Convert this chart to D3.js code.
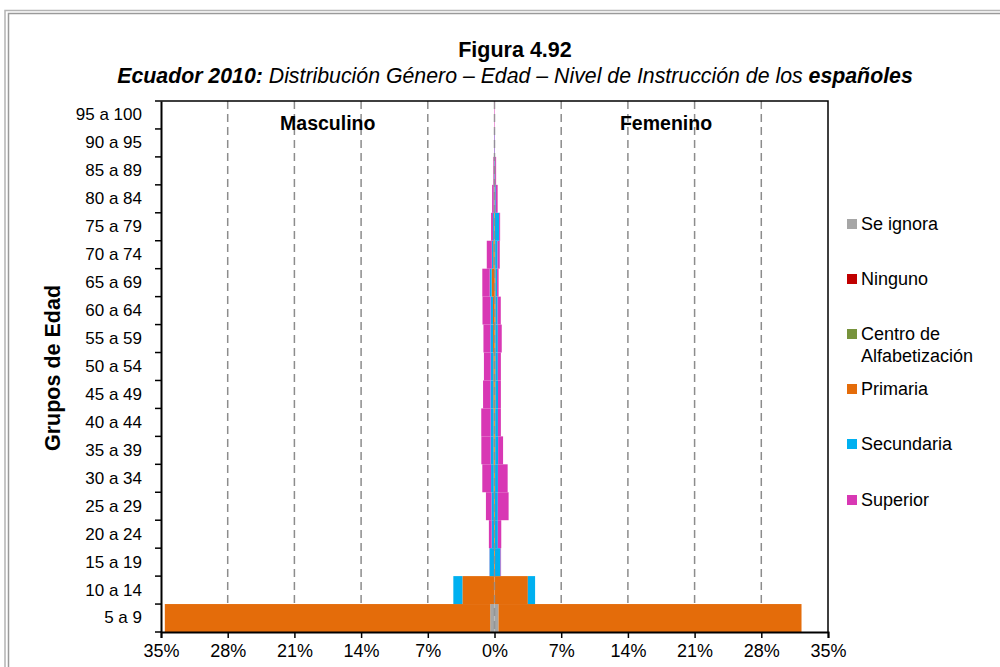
<!DOCTYPE html>
<html>
<head>
<meta charset="utf-8">
<script src="https://cdn.jsdelivr.net/npm/d3@7/dist/d3.min.js"></script>
<style>
  html, body { margin: 0; padding: 0; background: #fff; }
  svg { display: block; font-family: "Liberation Sans", Arial, sans-serif; }
</style>
</head>
<body>
<svg id="chart" width="1000" height="667"></svg>
<script>
// Age groups, bottom to top
const ages = ["5 a 9","10 a 14","15 a 19","20 a 24","25 a 29","30 a 34","35 a 39","40 a 44",
  "45 a 49","50 a 54","55 a 59","60 a 64","65 a 69","70 a 74","75 a 79","80 a 84","85 a 89",
  "90 a 95","95 a 100"];

// Education levels, stacked from the centre outward
const levels = ["Se ignora","Ninguno","Centro de Alfabetización","Primaria","Secundaria","Superior"];
const levelColors = ["#A6A6A6","#C00000","#77933C","#E46C0A","#00B0F0","#D838B4"];

// Percent of population, men (same order as ages)
const maleSeIgnora   = [0.45,0.02,0,0,0,0,0,0,0,0,0,0,0,0,0,0,0,0,0];
const maleNinguno    = [0,0,0,0,0,0,0,0,0,0,0.01,0.01,0.02,0.01,0.01,0,0,0,0];
const maleCentro     = [0,0,0,0,0,0,0,0,0,0,0,0,0,0,0,0,0,0,0];
const malePrimaria   = [34.15,3.35,0.05,0.05,0.06,0.08,0.1,0.1,0.12,0.12,0.14,0.15,0.28,0.12,0.05,0.03,0.02,0,0];
const maleSecundaria = [0,0.95,0.47,0.25,0.26,0.28,0.3,0.3,0.3,0.28,0.28,0.25,0.2,0.15,0.1,0.05,0.03,0.02,0];
const maleSuperior   = [0,0,0.02,0.29,0.58,0.92,0.98,0.99,0.78,0.71,0.73,0.85,0.78,0.53,0.2,0.17,0.07,0.03,0.03];

// Percent of population, women
const femaleSeIgnora   = [0.42,0,0,0,0,0,0,0,0,0,0,0,0,0,0,0,0,0,0];
const femaleNinguno    = [0,0,0,0,0,0,0,0,0,0,0,0.01,0.02,0.01,0,0,0,0,0];
const femaleCentro     = [0,0,0,0,0,0,0,0,0,0,0,0,0,0,0,0,0,0,0];
const femalePrimaria   = [31.8,3.5,0.05,0.05,0.05,0.06,0.08,0.08,0.1,0.1,0.1,0.1,0.08,0.06,0.04,0.03,0.02,0,0];
const femaleSecundaria = [0,0.76,0.58,0.3,0.3,0.3,0.3,0.28,0.27,0.25,0.25,0.22,0.17,0.25,0.45,0.1,0.05,0.02,0];
const femaleSuperior   = [0,0,0.06,0.36,1.13,1.02,0.52,0.31,0.3,0.32,0.41,0.33,0.16,0.23,0.1,0.2,0.1,0.03,0.03];

const xTicks = [-35,-28,-21,-14,-7,0,7,14,21,28,35];

const maleSeries = [maleSeIgnora, maleNinguno, maleCentro, malePrimaria, maleSecundaria, maleSuperior];
const femaleSeries = [femaleSeIgnora, femaleNinguno, femaleCentro, femalePrimaria, femaleSecundaria, femaleSuperior];

const svg = d3.select("#chart");
const plotLeft = 161, plotRight = 828, plotTop = 101, plotBottom = 632;

const x = d3.scaleLinear().domain([-35, 35]).range([plotLeft, plotRight]);
const y = d3.scaleBand().domain(ages.slice().reverse()).range([plotTop, plotBottom]).padding(0);

// outer frame
svg.append("path").attr("d", "M5,667 V10.5 H1000").attr("fill", "none")
  .attr("stroke", "#b4b4b4").attr("stroke-width", 1.5);
svg.append("path").attr("d", "M8.5,667 V13.5 H1000").attr("fill", "none")
  .attr("stroke", "#9a9a9a").attr("stroke-width", 1.5);

// titles
svg.append("text").attr("x", 515).attr("y", 57).attr("text-anchor", "middle")
  .attr("font-size", 21.5).attr("font-weight", "bold").text("Figura 4.92");
const sub = svg.append("text").attr("x", 515).attr("y", 83).attr("text-anchor", "middle")
  .attr("font-size", 21.3).attr("font-style", "italic");
sub.append("tspan").attr("font-weight", "bold").text("Ecuador 2010:");
sub.append("tspan").text(" Distribución Género – Edad – Nivel de Instrucción de los ");
sub.append("tspan").attr("font-weight", "bold").text("españoles");

// vertical dashed grid
const gridVals = xTicks.filter(v => v !== -35 && v !== 35 && v !== 0);
svg.append("g").selectAll("line").data(gridVals).join("line")
  .attr("x1", d => x(d)).attr("x2", d => x(d))
  .attr("y1", plotTop).attr("y2", plotBottom)
  .attr("stroke", "#8c8c8c").attr("stroke-width", 1.5).attr("stroke-dasharray", "8,5");

// stacked bars
function stackRows(series, sign) {
  const rects = [];
  ages.forEach((age, i) => {
    let acc = 0;
    series.forEach((vals, k) => {
      const v = vals[i];
      if (v > 0) {
        rects.push({ age, k, a: sign * acc, b: sign * (acc + v) });
        acc += v;
      }
    });
  });
  return rects;
}
const bars = stackRows(maleSeries, -1).concat(stackRows(femaleSeries, 1));
svg.append("g").selectAll("rect").data(bars).join("rect")
  .attr("x", d => x(Math.min(d.a, d.b)))
  .attr("width", d => Math.abs(x(d.b) - x(d.a)))
  .attr("y", d => y(d.age))
  .attr("height", y.bandwidth())
  .attr("fill", d => levelColors[d.k]);

// zero line over the bars
svg.append("line").attr("x1", x(0)).attr("x2", x(0)).attr("y1", plotTop).attr("y2", plotBottom)
  .attr("stroke", "#8c8c8c").attr("stroke-width", 1.5).attr("stroke-dasharray", "8,5")
  .attr("opacity", 0.8);

// plot frame (top and right)
svg.append("path").attr("d", `M${plotLeft},${plotTop} H${plotRight} V${plotBottom}`)
  .attr("fill", "none").attr("stroke", "#000").attr("stroke-width", 1.5);

// x axis
const xAxis = d3.axisBottom(x).tickValues(xTicks).tickSize(6)
  .tickFormat(d => Math.abs(d) + "%");
const gx = svg.append("g").attr("transform", `translate(0,${plotBottom})`).call(xAxis);
gx.select(".domain").attr("stroke-width", 2);
gx.selectAll(".tick line").attr("stroke-width", 1.5);
gx.selectAll("text").attr("font-size", 18).attr("fill", "#000")
  .attr("font-family", "Liberation Sans, Arial, sans-serif").attr("dy", "0.9em");

// y axis: labels per band, ticks at band boundaries
const gy = svg.append("g").attr("transform", `translate(${plotLeft},0)`)
  .call(d3.axisLeft(y).tickSize(0).tickPadding(19));
gy.select(".domain").attr("stroke-width", 2);
gy.selectAll("text").attr("font-size", 17).attr("fill", "#000")
  .attr("font-family", "Liberation Sans, Arial, sans-serif");
const bounds = d3.range(ages.length + 1).map(i => plotTop + i * y.step());
svg.append("g").selectAll("line").data(bounds).join("line")
  .attr("x1", plotLeft - 6).attr("x2", plotLeft).attr("y1", d => d).attr("y2", d => d)
  .attr("stroke", "#000").attr("stroke-width", 1.5);

// y axis title
svg.append("text").attr("transform", `translate(60,368) rotate(-90)`)
  .attr("text-anchor", "middle").attr("font-size", 21.5).attr("font-weight", "bold")
  .text("Grupos de Edad");

// side labels
svg.append("text").attr("x", x(-17.5)).attr("y", 130).attr("text-anchor", "middle")
  .attr("font-size", 19.5).attr("font-weight", "bold").text("Masculino");
svg.append("text").attr("x", x(18)).attr("y", 130).attr("text-anchor", "middle")
  .attr("font-size", 19.5).attr("font-weight", "bold").text("Femenino");

// legend
const legendY = [224, 279, 334, 389, 444, 500];
const lg = svg.append("g");
levels.forEach((name, k) => {
  const g = lg.append("g").attr("transform", `translate(847,${legendY[k]})`);
  g.append("rect").attr("x", 0).attr("y", -5).attr("width", 10).attr("height", 10)
    .attr("fill", levelColors[k]);
  const t = g.append("text").attr("x", 14).attr("y", 6).attr("font-size", 18);
  if (name === "Centro de Alfabetización") {
    t.append("tspan").attr("x", 14).text("Centro de");
    t.append("tspan").attr("x", 14).attr("dy", 22).text("Alfabetización");
  } else {
    t.text(name);
  }
});
</script>
</body>
</html>
